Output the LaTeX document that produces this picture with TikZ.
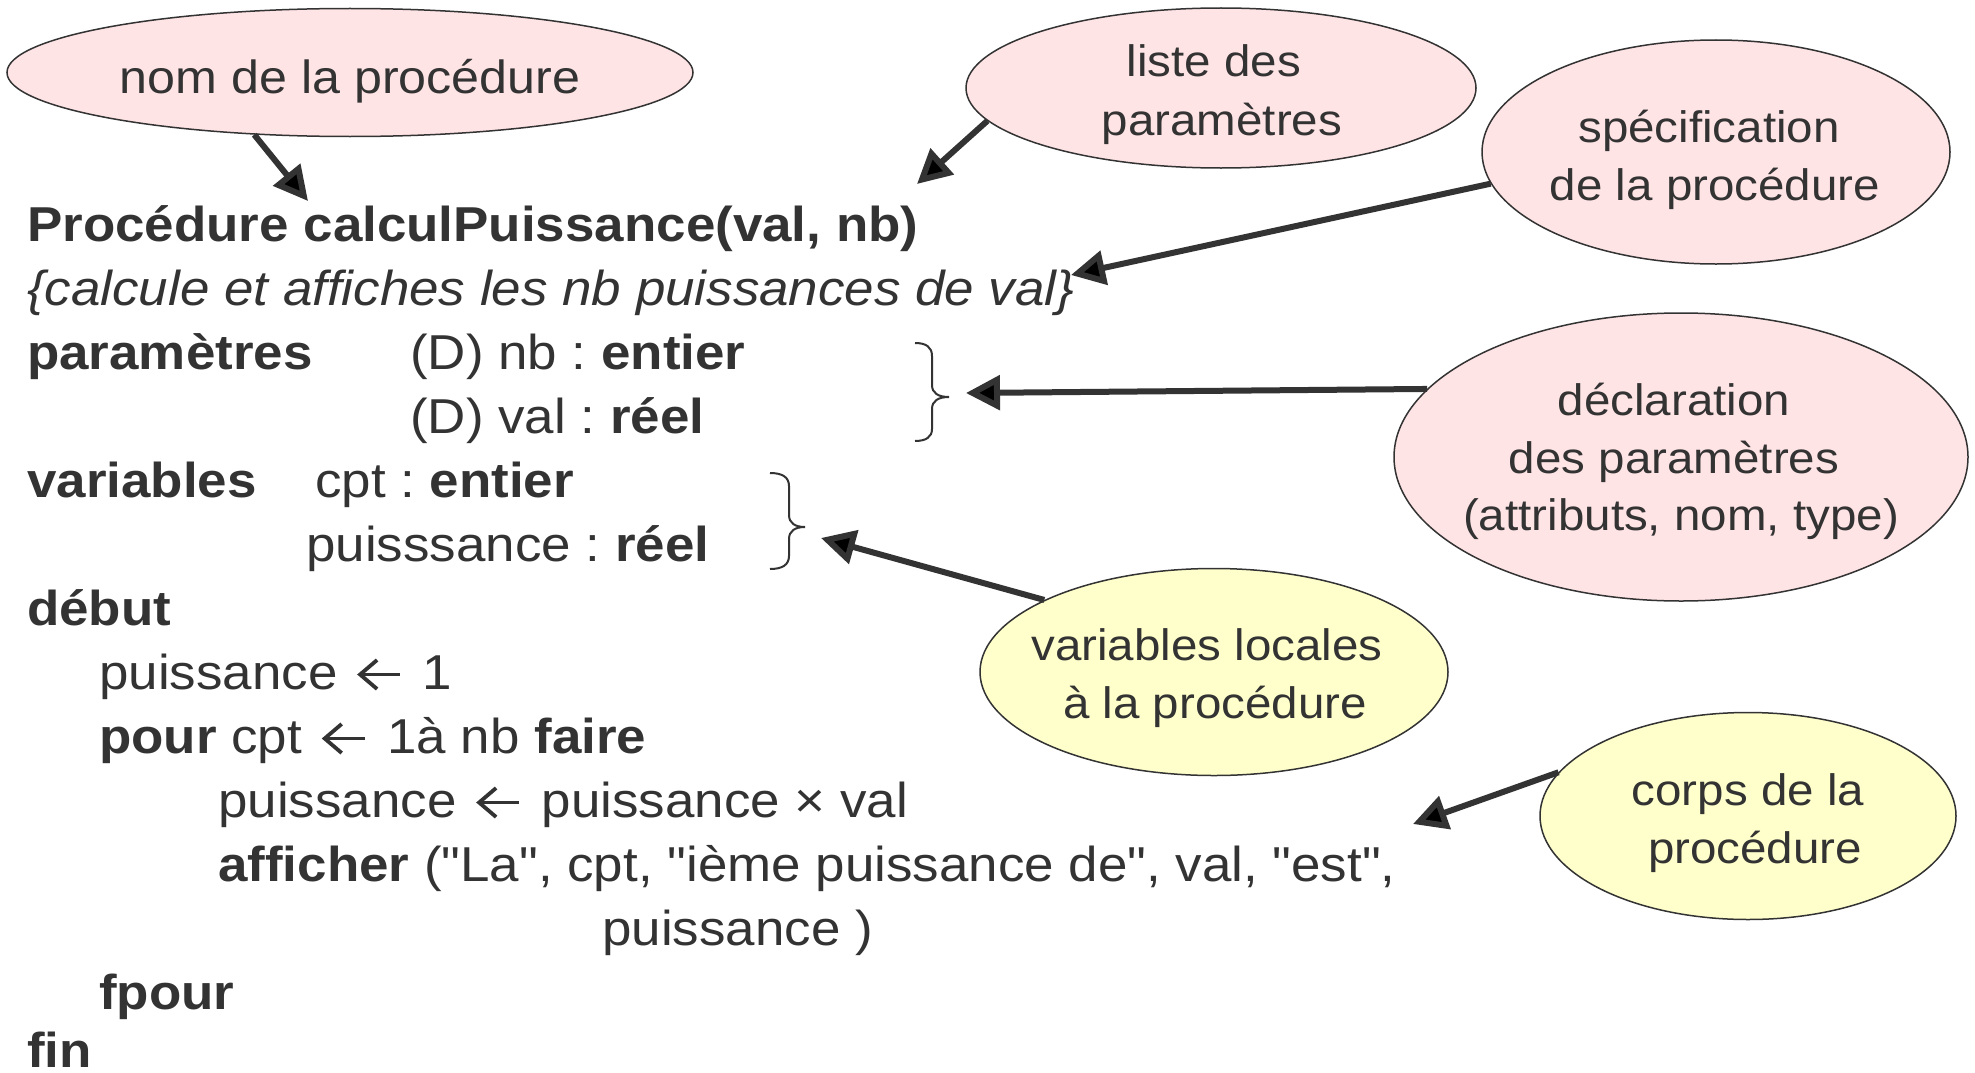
\documentclass[tikz,border=0pt]{standalone}
\usepackage{fontspec}
\setmainfont{Liberation Sans}[FakeStretch=1.08, Ligatures=TeXOff]
\usetikzlibrary{arrows.meta,shapes.geometric}
\definecolor{ink}{HTML}{333333}
\definecolor{pinkfill}{HTML}{FFE4E6}
\definecolor{yellowfill}{HTML}{FFFFCC}
% open-headed assignment arrow used in the listing
\newcommand\assign{\hspace{6pt}\tikz[baseline=0pt, x=1pt, y=1pt]{%
  \draw[ink, line width=3.8pt, line join=miter] (19,29) -- (2,14.5) -- (19,0);
  \draw[ink, line width=3.8pt] (2,14.5) -- (42,14.5);}\hspace{6pt}}
\frenchspacing
\begin{document}
\begin{tikzpicture}[x=1pt,y=-1pt,
  bubble/.style={ellipse, draw=ink, line width=1.5pt, inner sep=0pt},
  pinkbubble/.style={bubble, fill=pinkfill},
  yellowbubble/.style={bubble, fill=yellowfill},
  note/.style={anchor=base, inner sep=0pt, text=ink, font=\fontsize{44}{52}\selectfont},
  code/.style={anchor=base west, inner sep=0pt, text=ink, font=\fontsize{49}{58}\selectfont},
  pointer/.style={draw=ink, line width=6pt, -{Triangle[length=34pt,width=34pt]}},
  bracket/.style={draw=ink, line width=2pt}
]
\fill[white] (0,0) rectangle (1975,1073);
\useasboundingbox (0,0) rectangle (1975,1073);

% callout bubbles
\node[pinkbubble, minimum width=686pt, minimum height=128pt] (ellA) at (350,72.5) {};
\node[pinkbubble, minimum width=510pt, minimum height=160pt] (ellB) at (1221,88) {};
\node[pinkbubble, minimum width=468pt, minimum height=224pt] (ellC) at (1716,152) {};
\node[pinkbubble, minimum width=574pt, minimum height=288pt] (ellD) at (1681,457) {};
\node[yellowbubble, minimum width=468pt, minimum height=207pt] (ellE) at (1214,672) {};
\node[yellowbubble, minimum width=416pt, minimum height=207pt] (ellF) at (1748,816) {};

% bubble texts
\node[note, font=\fontsize{46.5}{54}\selectfont] (tA) at (350,93) {nom de la procédure};
\node[note] (tB1) at (1214,77) {liste des};
\node[note] (tB2) at (1222,135) {paramètres};
\node[note] (tC1) at (1709,142) {spécification};
\node[note] (tC2) at (1715,200) {de la procédure};
\node[note] (tD1) at (1674,415) {déclaration};
\node[note] (tD2) at (1674,473) {des paramètres};
\node[note] (tD3) at (1681,530) {(attributs, nom, type)};
\node[note] (tE1) at (1207,660) {variables locales};
\node[note] (tE2) at (1215,718) {à la procédure};
\node[note] (tF1) at (1748,805) {corps de la};
\node[note] (tF2) at (1755,863) {procédure};

% the procedure listing
\node[code] (l1)  at (27,241)  {\bfseries Procédure calculPuissance(val, nb)};
\node[code] (l2)  at (27,305)  {\itshape \{calcule et affiches les nb puissances de val\}};
\node[code] (l3k) at (27,369)  {\bfseries paramètres};
\node[code] (l3)  at (410,369) {(D) nb : \textbf{entier}};
\node[code] (l4)  at (410,433) {(D) val : \textbf{réel}};
\node[code] (l5k) at (27,497)  {\bfseries variables};
\node[code] (l5)  at (315,497) {cpt : \textbf{entier}};
\node[code] (l6)  at (306,561) {puisssance : \textbf{réel}};
\node[code] (l7)  at (27,625)  {\bfseries début};
\node[code] (l8)  at (99,689)  {puissance \assign{} 1};
\node[code] (l9)  at (99,753)  {\textbf{pour} cpt \assign{} 1à nb \textbf{faire}};
\node[code] (l10) at (218,817) {puissance \assign{} puissance × val};
\node[code] (l11) at (218,881) {\textbf{afficher} ("La", cpt, "ième puissance de", val, "est",};
\node[code] (l12) at (602,945) {puissance )};
\node[code] (l13) at (99,1009) {\bfseries fpour};
\node[code] (l14) at (27,1067) {\bfseries fin};

% braces grouping the declarations
\draw[bracket] (915,343) .. controls (926,343) and (932,347) .. (932,356) -- (932,385)
  .. controls (932,393) and (938,397) .. (949,397)
  .. controls (938,397) and (932,401) .. (932,409) -- (932,429)
  .. controls (932,437) and (926,441) .. (915,441);
\draw[bracket] (770,473) .. controls (782,473) and (789,477) .. (789,486) -- (789,515)
  .. controls (789,523) and (795,527) .. (805,527)
  .. controls (795,527) and (789,531) .. (789,539) -- (789,556)
  .. controls (789,565) and (782,569) .. (770,569);

% arrow targets
\coordinate (pA) at (308,201);
\coordinate (pB) at (917,184);
\coordinate (pC) at (1071,275);
\coordinate (pD) at (966,393);
\coordinate (pE) at (821,538);
\coordinate (pF) at (1413,824);

% connectors
\draw[pointer] (ellA.213.8) -- (pA);
\draw[pointer] (ellB.188.1) -- (pB);
\draw[pointer] (ellC.188.8) -- (pC);
\draw[pointer] (ellD.165.7) -- (pD);
\draw[pointer] (ellE.157.2) -- (pE);
\draw[pointer] (ellF.167.4) -- (pF);
\end{tikzpicture}
\end{document}
